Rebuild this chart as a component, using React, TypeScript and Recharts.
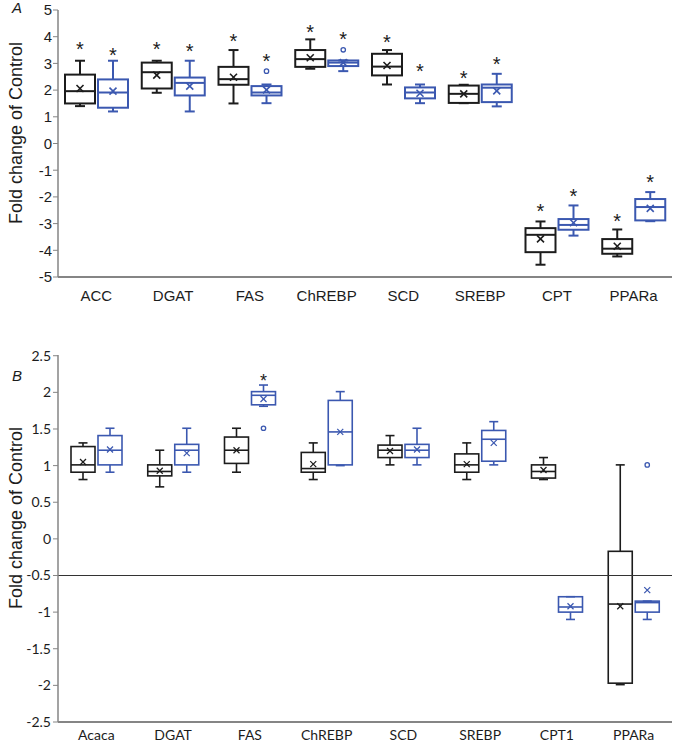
import React from "react";
import { ComposedChart, Bar, XAxis, YAxis, ReferenceLine } from "recharts";

// box tuples: [whiskerLow, q1, median, q3, whiskerHigh, mean]
const catsA = ["ACC", "DGAT", "FAS", "ChREBP", "SCD", "SREBP", "CPT", "PPARa"];
const boxesABlack = [
  [1.4, 1.5, 1.96, 2.58, 3.1, 2.06],
  [1.9, 2.06, 2.67, 3.03, 3.1, 2.56],
  [1.5, 2.2, 2.41, 2.87, 3.5, 2.48],
  [2.8, 2.87, 3.16, 3.5, 3.9, 3.21],
  [2.21, 2.55, 2.88, 3.36, 3.5, 2.92],
  [1.51, 1.52, 1.86, 2.17, 2.2, 1.86],
  [-4.54, -4.07, -3.42, -3.17, -2.92, -3.57],
  [-4.23, -4.13, -3.94, -3.58, -3.22, -3.85],
];
const boxesABlue = [
  [1.2, 1.34, 1.91, 2.4, 3.1, 1.96],
  [1.2, 1.8, 2.27, 2.47, 3.1, 2.15],
  [1.51, 1.8, 1.91, 2.15, 2.21, 2.01],
  [2.71, 2.9, 3.03, 3.11, 3.11, 3.03],
  [1.51, 1.69, 1.91, 2.1, 2.21, 1.88],
  [1.39, 1.55, 2.09, 2.21, 2.61, 1.97],
  [-3.45, -3.23, -3.05, -2.83, -2.32, -2.97],
  [-2.91, -2.88, -2.38, -2.08, -1.82, -2.43],
];
const outliersABlack: (number | null)[] = [null, null, null, null, null, null, null, null];
const outliersABlue: (number | null)[] = [null, null, 2.71, 3.51, null, null, null, null];
const starsABlack: (number | null)[] = [3.7, 3.7, 3.98, 4.33, 3.96, 2.61, -2.38, -2.76];
const starsABlue: (number | null)[] = [3.48, 3.63, 3.23, 4.07, 2.86, 3.13, -1.82, -1.3];
const ticksA = [-5, -4, -3, -2, -1, 0, 1, 2, 3, 4, 5];

const catsB = ["Acaca", "DGAT", "FAS", "ChREBP", "SCD", "SREBP", "CPT1", "PPARa"];
const boxesBBlack = [
  [0.81, 0.91, 1.01, 1.26, 1.31, 1.05],
  [0.71, 0.86, 0.92, 1.01, 1.21, 0.93],
  [0.91, 1.03, 1.21, 1.39, 1.51, 1.21],
  [0.81, 0.91, 0.96, 1.18, 1.31, 1.02],
  [1.01, 1.11, 1.21, 1.28, 1.41, 1.2],
  [0.81, 0.91, 1.01, 1.16, 1.31, 1.02],
  [0.81, 0.83, 0.92, 1.01, 1.11, 0.94],
  [-1.99, -1.97, -0.89, -0.17, 1.01, -0.92],
];
const boxesBBlue = [
  [0.91, 1.01, 1.21, 1.41, 1.51, 1.22],
  [0.91, 1.01, 1.21, 1.29, 1.51, 1.17],
  [1.81, 1.83, 1.96, 2.01, 2.1, 1.91],
  [1.0, 1.01, 1.46, 1.89, 2.01, 1.46],
  [1.01, 1.11, 1.21, 1.29, 1.51, 1.22],
  [1.01, 1.06, 1.36, 1.48, 1.6, 1.31],
  [-1.1, -1.0, -0.93, -0.79, -0.79, -0.92],
  [-1.1, -1.0, -0.87, -0.85, -0.85, -0.7],
];
const outliersBBlack: (number | null)[] = [null, null, null, null, null, null, null, null];
const outliersBBlue: (number | null)[] = [null, null, 1.51, null, null, null, null, 1.01];
const starsBBlack: (number | null)[] = [null, null, null, null, null, null, null, null];
const starsBBlue: (number | null)[] = [null, null, 2.21, null, null, null, null, null];
const ticksB = [-2.5, -2, -1.5, -1, -0.5, 0, 0.5, 1, 1.5, 2, 2.5];

const BLACK = "#1c1c1c";
const BLUE = "#3b58b0";
const AXIS = "#858585";

function group(stats: number[], outlier: number | null, star: number | null) {
  const vals = [stats[0], stats[4]];
  if (outlier != null) vals.push(outlier);
  if (star != null) vals.push(star + 0.3);
  return { stats, outlier, star, range: [Math.min(...vals), Math.max(...vals)] };
}

function buildRows(cats: string[], blk: number[][], blu: number[][], oBlk: any[], oBlu: any[], sBlk: any[], sBlu: any[]) {
  return cats.map((name, i) => {
    const black = group(blk[i], oBlk[i], sBlk[i]);
    const blue = group(blu[i], oBlu[i], sBlu[i]);
    return { name, black, blue, blackRange: black.range, blueRange: blue.range };
  });
}

const rowsA = buildRows(catsA, boxesABlack, boxesABlue, outliersABlack, outliersABlue, starsABlack, starsABlue);
const rowsB = buildRows(catsB, boxesBBlack, boxesBBlue, outliersBBlack, outliersBBlue, starsBBlack, starsBBlue);

// draws a box plot inside the pixel span that the range bar got from the y scale
function BoxShape(props: any) {
  const { x, y, width, height, payload, grp, color, sw, cap, cross, starSize } = props;
  const g = payload[grp];
  const [lo, hi] = g.range;
  const top = Math.min(y, y + height);
  const bot = Math.max(y, y + height);
  const py = (v: number) => top + ((hi - v) / (hi - lo)) * (bot - top);
  const [wl, q1, med, q3, wh, mean] = g.stats;
  const cx = x + width / 2;
  const mY = py(mean);
  return (
    <g>
      <line x1={cx} x2={cx} y1={py(wh)} y2={py(q3)} stroke={color} strokeWidth={sw} />
      <line x1={cx} x2={cx} y1={py(q1)} y2={py(wl)} stroke={color} strokeWidth={sw} />
      <line x1={cx - cap} x2={cx + cap} y1={py(wh)} y2={py(wh)} stroke={color} strokeWidth={sw} />
      <line x1={cx - cap} x2={cx + cap} y1={py(wl)} y2={py(wl)} stroke={color} strokeWidth={sw} />
      <rect x={x} y={py(q3)} width={width} height={Math.max(0.5, py(q1) - py(q3))} fill="none" stroke={color} strokeWidth={sw} />
      <line x1={x} x2={x + width} y1={py(med)} y2={py(med)} stroke={color} strokeWidth={sw} />
      <line x1={cx - cross} x2={cx + cross} y1={mY - cross} y2={mY + cross} stroke={color} strokeWidth={sw * 0.8} />
      <line x1={cx - cross} x2={cx + cross} y1={mY + cross} y2={mY - cross} stroke={color} strokeWidth={sw * 0.8} />
      {g.outlier != null && (
        <circle cx={cx} cy={py(g.outlier)} r={2.2} fill="none" stroke={color} strokeWidth={1.3} />
      )}
      {g.star != null && (
        <text x={cx} y={py(g.star)} dy={starSize * 0.55} textAnchor="middle" fontSize={starSize} fill={BLACK} fontFamily="Liberation Sans, Arial, sans-serif">
          *
        </text>
      )}
    </g>
  );
}

const yLabelStyle = { fontFamily: "Liberation Sans, Arial, sans-serif", fontSize: 18, fill: BLACK };

export default function App() {
  return (
    <div style={{ position: "absolute", left: 0, top: 0, width: 675, height: 744, background: "#fff" }}>
      <div style={{ position: "absolute", left: 0, top: 0 }}>
        <ComposedChart width={675} height={320} data={rowsA} margin={{ top: 10, right: 3, bottom: 13, left: 0 }} barSize={30} barGap={3}>
          <XAxis
            dataKey="name"
            height={30}
            tickLine={false}
            tickMargin={7}
            axisLine={{ stroke: AXIS, strokeWidth: 2 }}
            tick={{ fill: BLACK, fontSize: 15, fontFamily: "Liberation Sans, Arial, sans-serif" }}
          />
          <YAxis
            width={58}
            domain={[-5, 5]}
            ticks={ticksA}
            interval={0}
            tickSize={5}
            tickMargin={1}
            tickLine={{ stroke: AXIS }}
            axisLine={{ stroke: AXIS, strokeWidth: 1.5 }}
            tick={{ fill: BLACK, fontSize: 15, fontFamily: "Liberation Sans, Arial, sans-serif" }}
          />
          <Bar dataKey="blackRange" isAnimationActive={false} shape={(p: any) => <BoxShape {...p} grp="black" color={BLACK} sw={2} cap={5} cross={3.5} starSize={20} />} />
          <Bar dataKey="blueRange" isAnimationActive={false} shape={(p: any) => <BoxShape {...p} grp="blue" color={BLUE} sw={2} cap={5} cross={3.5} starSize={20} />} />
        </ComposedChart>
      </div>
      <div style={{ position: "absolute", left: 0, top: 340 }}>
        <ComposedChart width={675} height={402} data={rowsB} margin={{ top: 15, right: 3, bottom: 0, left: 0 }} barSize={24} barGap={3}>
          <XAxis
            dataKey="name"
            height={20}
            tickLine={false}
            tickMargin={2}
            axisLine={{ stroke: AXIS, strokeWidth: 2 }}
            tick={{ fill: BLACK, fontSize: 14, fontFamily: "Lato, sans-serif" }}
          />
          <YAxis
            width={58}
            domain={[-2.5, 2.5]}
            ticks={ticksB}
            interval={0}
            tickSize={5}
            tickMargin={2}
            tickLine={{ stroke: AXIS }}
            axisLine={{ stroke: AXIS, strokeWidth: 1.5 }}
            tick={{ fill: BLACK, fontSize: 14, fontFamily: "Lato, sans-serif" }}
          />
          <ReferenceLine y={-0.5} stroke="#333" strokeWidth={1.2} />
          <Bar dataKey="blackRange" isAnimationActive={false} shape={(p: any) => <BoxShape {...p} grp="black" color={BLACK} sw={1.6} cap={4.5} cross={3} starSize={18} />} />
          <Bar dataKey="blueRange" isAnimationActive={false} shape={(p: any) => <BoxShape {...p} grp="blue" color={BLUE} sw={1.6} cap={4.5} cross={3} starSize={18} />} />
        </ComposedChart>
      </div>
      <svg width={675} height={744} style={{ position: "absolute", left: 0, top: 0, pointerEvents: "none" }}>
        <text x={12} y={13} fontSize={15} fontStyle="italic" fontFamily="Liberation Sans, Arial, sans-serif" fill={BLACK}>A</text>
        <text x={12} y={381} fontSize={15} fontStyle="italic" fontFamily="Liberation Sans, Arial, sans-serif" fill={BLACK}>B</text>
        <text x={16} y={133} transform="rotate(-90 16 133)" textAnchor="middle" dominantBaseline="central" {...yLabelStyle}>Fold change of Control</text>
        <text x={16} y={518} transform="rotate(-90 16 518)" textAnchor="middle" dominantBaseline="central" {...yLabelStyle}>Fold change of Control</text>
      </svg>
    </div>
  );
}
